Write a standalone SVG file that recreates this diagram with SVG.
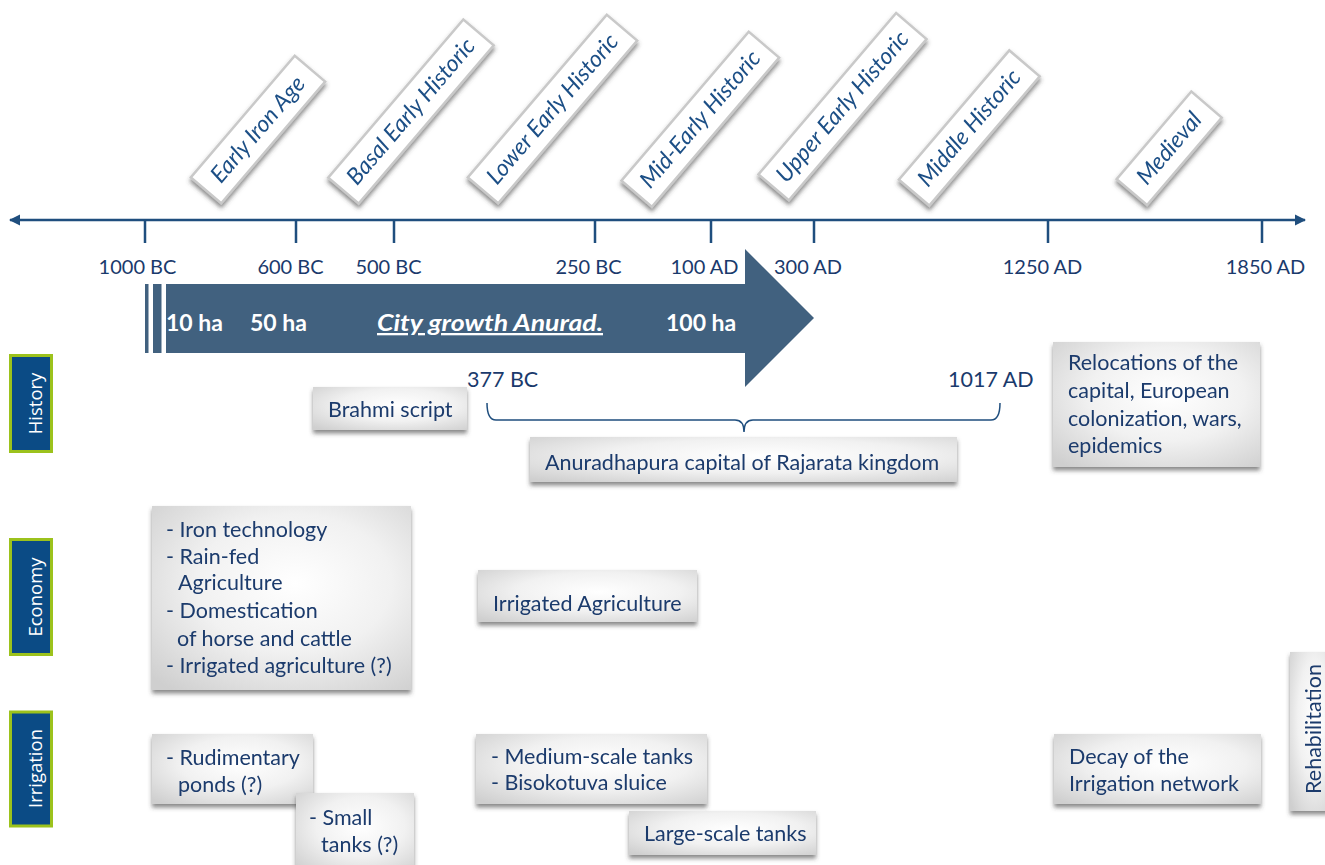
<svg xmlns="http://www.w3.org/2000/svg" width="1325" height="865" viewBox="0 0 1325 865">
<defs>
<style>
.t{font-family:Lato,"Liberation Sans",sans-serif;font-size:21.5px;fill:#1a3a6c}
.ax{font-family:Lato,"Liberation Sans",sans-serif;font-size:20px;fill:#1a3a6c;text-anchor:middle}
.per{font-family:Lato,"Liberation Sans",sans-serif;font-size:23px;font-style:italic;fill:#1d4f86;text-anchor:middle}
.aw{font-family:Lato,"Liberation Sans",sans-serif;font-size:23px;font-weight:bold;fill:#ffffff}
.cat{font-family:"Open Sans","DejaVu Sans",sans-serif;font-size:18.5px;fill:#ffffff;text-anchor:middle}
.box{fill:url(#bg)}
.pbox{fill:#ffffff;stroke:#c9c9c9;stroke-width:2.5}
.catbox{fill:#0b4b85;stroke:#9cc21c;stroke-width:3}
.axis{stroke:#1f4e7e;stroke-width:2.5;fill:none}
</style>
<radialGradient id="bg" cx="0.55" cy="0.42" r="0.75">
<stop offset="0" stop-color="#ffffff"/>
<stop offset="0.5" stop-color="#f1f1f1"/>
<stop offset="1" stop-color="#cfcfcf"/>
</radialGradient>
<filter id="sh" x="-10%" y="-10%" width="120%" height="130%">
<feDropShadow dx="0" dy="3.5" stdDeviation="2" flood-color="#3a3a3a" flood-opacity="0.6"/>
</filter>
<marker id="ah" viewBox="0 0 10 10" refX="9" refY="5" markerWidth="4.5" markerHeight="4.5" orient="auto-start-reverse" markerUnits="strokeWidth">
<path d="M0,0 L10,5 L0,10 Z" fill="#1f4e7e"/>
</marker>
</defs>
<rect width="1325" height="865" fill="#ffffff"/>

<g id="connectors">
<line class="axis" x1="10" y1="220" x2="1305" y2="220" marker-start="url(#ah)" marker-end="url(#ah)"/>
<path class="axis" d="M145,220V243M296,220V243M394,220V243M595,220V243M711,220V243M814,220V243M1048,220V243M1262,220V243"/>
<path d="M487,403 Q487,420 496,420 L735,420 Q744,420 744,432 Q744,420 753,420 L991,420 Q1000,420 1000,403" fill="none" stroke="#1f4e7e" stroke-width="1.5"/>
</g>

<g id="axis-labels">
<text class="ax" x="137.5" y="274">1000 BC</text>
<text class="ax" x="290.5" y="274">600 BC</text>
<text class="ax" x="388.5" y="274">500 BC</text>
<text class="ax" x="588.5" y="274">250 BC</text>
<text class="ax" x="704.5" y="274">100 AD</text>
<text class="ax" x="808" y="274">300 AD</text>
<text class="ax" x="1042.5" y="274">1250 AD</text>
<text class="ax" x="1265.5" y="274">1850 AD</text>
</g>

<g id="period-early-iron-age" filter="url(#sh)"><g transform="translate(258,129.5) rotate(-49.5)"><rect class="pbox" x="-80" y="-20" width="160" height="40"/><text class="per" x="0" y="7.5">Early Iron Age</text></g></g>
<g id="period-basal-early-historic" filter="url(#sh)"><g transform="translate(411,111.5) rotate(-49.5)"><rect class="pbox" x="-104" y="-20" width="208" height="40"/><text class="per" x="0" y="7.5">Basal Early Historic</text></g></g>
<g id="period-lower-early-historic" filter="url(#sh)"><g transform="translate(552.5,109) rotate(-49.5)"><rect class="pbox" x="-107" y="-20" width="214" height="40"/><text class="per" x="0" y="7.5">Lower Early Historic</text></g></g>
<g id="period-mid-early-historic" filter="url(#sh)"><g transform="translate(700.3,119.2) rotate(-49.5)"><rect class="pbox" x="-98" y="-20" width="196" height="40"/><text class="per" x="0" y="7.5">Mid-Early Historic</text></g></g>
<g id="period-upper-early-historic" filter="url(#sh)"><g transform="translate(842.5,106.7) rotate(-49.5)"><rect class="pbox" x="-106" y="-20" width="212" height="40"/><text class="per" x="0" y="7.5">Upper Early Historic</text></g></g>
<g id="period-middle-historic" filter="url(#sh)"><g transform="translate(969.3,128) rotate(-49.5)"><rect class="pbox" x="-85" y="-20" width="170" height="40"/><text class="per" x="0" y="7.5">Middle Historic</text></g></g>
<g id="period-medieval" filter="url(#sh)"><g transform="translate(1169.2,148.3) rotate(-49.5)"><rect class="pbox" x="-57.5" y="-20" width="115" height="40"/><text class="per" x="0" y="7.5">Medieval</text></g></g>

<g id="city-growth-arrow">
<rect x="145" y="284" width="3.5" height="69" fill="#41617f"/>
<rect x="153" y="284" width="8.5" height="69" fill="#41617f"/>
<path d="M166,284 H745 V249 L814,318 L745,387 V353 H166 Z" fill="#41617f"/>
<text class="aw" x="166" y="331">10 ha</text>
<text class="aw" x="250" y="331">50 ha</text>
<text class="aw" x="377" y="331" font-size="25" font-style="italic" text-decoration="underline" textLength="226" lengthAdjust="spacingAndGlyphs">City growth Anurad.</text>
<text class="aw" x="666" y="331">100 ha</text>
</g>

<g id="cat-history"><rect class="catbox" x="10.5" y="355.5" width="41" height="96"/><text class="cat" transform="translate(41.5,403.5) rotate(-90)" x="0" y="0">History</text></g>
<g id="cat-economy"><rect class="catbox" x="10.5" y="539.5" width="41" height="115"/><text class="cat" transform="translate(41.5,597) rotate(-90)" x="0" y="0">Economy</text></g>
<g id="cat-irrigation"><rect class="catbox" x="10.5" y="712" width="41" height="114"/><text class="cat" transform="translate(41.5,768.5) rotate(-90)" x="0" y="0">Irrigation</text></g>

<g id="date-377bc"><text class="t" x="467" y="387">377 BC</text></g>
<g id="date-1017ad"><text class="t" x="948" y="387">1017 AD</text></g>

<g id="box-brahmi" filter="url(#sh)"><rect class="box" x="313" y="387" width="154" height="43"/><text class="t" x="328" y="417">Brahmi script</text></g>
<g id="box-anuradhapura" filter="url(#sh)"><rect class="box" x="530" y="437" width="427" height="45"/><text class="t" x="545" y="470">Anuradhapura capital of Rajarata kingdom</text></g>
<g id="box-relocations" filter="url(#sh)"><rect class="box" x="1053" y="342" width="207" height="125"/>
<text class="t" x="1068" y="370">Relocations of the</text>
<text class="t" x="1068" y="398">capital, European</text>
<text class="t" x="1068" y="425.5">colonization, wars,</text>
<text class="t" x="1068" y="453">epidemics</text></g>

<g id="box-economy-early" filter="url(#sh)"><rect class="box" x="152" y="506" width="259" height="184"/>
<text class="t" x="166" y="536.5">- Iron technology</text>
<text class="t" x="166" y="563.5">- Rain-fed</text>
<text class="t" x="178" y="590">Agriculture</text>
<text class="t" x="166" y="618">- Domestication</text>
<text class="t" x="177" y="645.5">of horse and cattle</text>
<text class="t" x="166" y="673">- Irrigated agriculture (?)</text></g>
<g id="box-irrigated-agriculture" filter="url(#sh)"><rect class="box" x="478" y="570" width="219" height="52"/><text class="t" x="493" y="611">Irrigated Agriculture</text></g>

<g id="box-rudimentary" filter="url(#sh)"><rect class="box" x="152" y="734" width="161" height="70"/>
<text class="t" x="166" y="765">- Rudimentary</text>
<text class="t" x="178" y="792">ponds (?)</text></g>
<g id="box-small-tanks" filter="url(#sh)"><rect class="box" x="296" y="793" width="118" height="80"/>
<text class="t" x="309" y="825">- Small</text>
<text class="t" x="321" y="852">tanks (?)</text></g>
<g id="box-medium-tanks" filter="url(#sh)"><rect class="box" x="476" y="734" width="231" height="70"/>
<text class="t" x="491" y="764">- Medium-scale tanks</text>
<text class="t" x="491" y="790">- Bisokotuva sluice</text></g>
<g id="box-large-tanks" filter="url(#sh)"><rect class="box" x="629" y="811" width="187" height="44"/><text class="t" x="644" y="841">Large-scale tanks</text></g>
<g id="box-decay" filter="url(#sh)"><rect class="box" x="1054" y="734" width="207" height="70"/>
<text class="t" x="1069" y="764">Decay of the</text>
<text class="t" x="1069" y="791">Irrigation network</text></g>
<g id="box-rehabilitation" filter="url(#sh)"><rect class="box" x="1290" y="652" width="45" height="159"/><text class="t" transform="translate(1320.5,729) rotate(-90)" x="0" y="0" text-anchor="middle">Rehabilitation</text></g>
</svg>
